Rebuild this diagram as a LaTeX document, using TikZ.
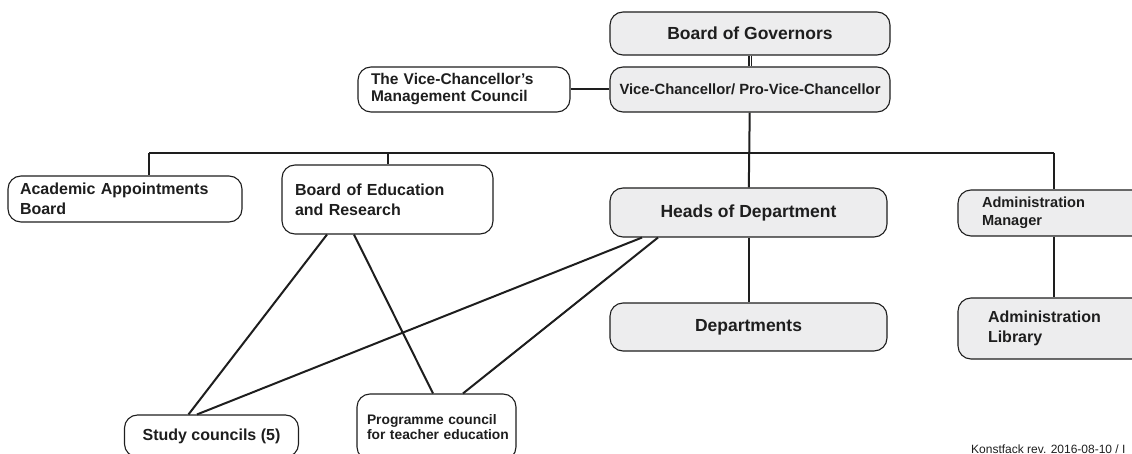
\documentclass[tikz,border=0pt]{standalone}
\usepackage{fontspec}
\setmainfont{Liberation Sans}
\definecolor{boxgrey}{HTML}{EDEDEE}
\definecolor{inkgrey}{HTML}{1E1E1E}
\newcommand{\fs}[2]{\fontsize{#1}{#2}\selectfont}
\begin{document}
\begin{tikzpicture}[x=1pt, y=-1pt,
    unit/.style={draw=inkgrey, line width=1.1pt, rounded corners=13pt, inner sep=0pt,
                 font=\bfseries, text=inkgrey},
    greyunit/.style={unit, fill=boxgrey, align=center},
    whiteunit/.style={unit, fill=white, align=left},
    link/.style={line width=2pt, inkgrey}]
    \useasboundingbox (0,0) rectangle (1132,454);
    \node [greyunit, minimum width=280, minimum height=43, font=\bfseries\fs{17.5}{20}] (governors) at (750,33.5) {Board of Governors};
    \node [greyunit, minimum width=280, minimum height=45, font=\bfseries\fs{14.8}{17}] (vc) at (750,89.5) {Vice-Chancellor/ Pro-Vice-Chancellor};
    \node [whiteunit, minimum width=212, minimum height=45, text width=186, font=\bfseries\fs{15.5}{17}] (council) at (464,89.5) {The Vice-Chancellor’s\\Management Council};
    \node [whiteunit, minimum width=234, minimum height=46, text width=210, font=\bfseries\fs{16}{20}] (appoint) at (125,199) {Academic Appointments\\Board};
    \node [whiteunit, minimum width=211, minimum height=69, text width=185, font=\bfseries\fs{16}{20}] (education) at (387.5,199.5) {Board of Education\\and Research};
    \node [greyunit, minimum width=277, minimum height=49, font=\bfseries\fs{17.5}{20}] (heads) at (748.5,212.5) {Heads of Department};
    \node [greyunit, minimum width=277, minimum height=48, font=\bfseries\fs{17.5}{20}] (depts) at (748.5,327) {Departments};
    \node [unit, fill=boxgrey, align=left, minimum width=192, minimum height=46, text width=144, font=\bfseries\fs{14.6}{18}] (manager) at (1054,213) {Administration\\Manager};
    \node [unit, fill=boxgrey, align=left, minimum width=192, minimum height=61, text width=132, font=\bfseries\fs{16}{20}] (library) at (1054,328.5) {Administration\\Library};
    \node [whiteunit, align=center, minimum width=174, minimum height=42, font=\bfseries\fs{16}{20}] (study) at (211.5,436) {Study councils (5)};
    \node [whiteunit, minimum width=159, minimum height=66, text width=139, font=\bfseries\fs{13.8}{15.5}] (programme) at (436.5,427) {\mbox{Programme council}\\\mbox{for teacher education}};
    \node [anchor=base west, inner sep=0pt, font=\fs{12}{13}, text=inkgrey] (revision) at (971,453.5) {Konstfack rev. 2016-08-10 / I};
    \coordinate (busleft) at (149,153);
    \coordinate (busright) at (1054,153);
    % hierarchy
    \draw [link, double=white, double distance=0.9pt, line width=1.1pt] (governors) -- (vc);
    \draw [link] (council) -- (vc);
    \draw [link] (vc) -- (heads);
    \draw [link] (busleft) -- (busright);
    \draw [link] (busleft) -- (appoint.north -| busleft);
    \draw [link] (education.north) -- (education.north |- busleft);
    \draw [link] (busright) -- (manager.north);
    \draw [link] (heads) -- (depts);
    \draw [link] (manager) -- (library);
    % councils
    \draw [link] ([xshift=-60.5]education.south) -- ([xshift=-23]study.north);
    \draw [link] ([xshift=-33.5]education.south) -- ([xshift=-3.5]programme.north);
    \draw [link] ([xshift=-106.5]heads.south) -- ([xshift=-14.5]study.north);
    \draw [link] ([xshift=-90.5]heads.south) -- ([xshift=26.5]programme.north);
\end{tikzpicture}
\end{document}
